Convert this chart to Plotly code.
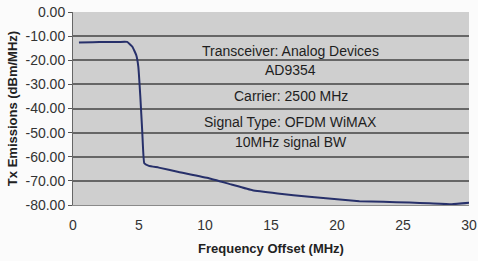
import plotly.graph_objects as go

freq = [0.45, 1.5, 2.5, 3.5, 4.1, 4.5, 4.8, 4.95, 5.1, 5.25, 5.4, 5.75, 6.5, 8.0, 10.3, 12.0, 13.6, 15.5, 17.9, 20.0, 21.7, 23.5, 25.5, 27.0, 28.7, 30.0]
emis = [-12.6, -12.5, -12.4, -12.4, -12.4, -14.4, -18.0, -22.7, -35.0, -50.0, -62.7, -63.8, -64.5, -66.3, -68.9, -71.5, -73.9, -75.2, -76.6, -77.6, -78.4, -78.7, -79.0, -79.3, -79.7, -79.1]

notes = ["Transceiver: Analog Devices", "AD9354", "Carrier: 2500 MHz", "Signal Type: OFDM WiMAX", "10MHz signal BW"]
note_y = [-16.0, -24.2, -34.8, -45.5, -53.8]

x_ticks = [0, 5, 10, 15, 20, 25, 30]
y_ticks = [0, -10, -20, -30, -40, -50, -60, -70, -80]

fig = go.Figure()
fig.add_trace(go.Scatter(x=freq, y=emis, mode="lines",
                         line=dict(color="#27306a", width=2, shape="spline", smoothing=0.3),
                         hoverinfo="skip", showlegend=False))

for t, yv in zip(notes, note_y):
    fig.add_annotation(x=16.5, y=yv, text=t, showarrow=False,
                       font=dict(family="Liberation Sans, Arial", size=14, color="#1e1e1e"),
                       xanchor="center", yanchor="middle")

fig.update_layout(
    width=478, height=261,
    margin=dict(l=73, r=9, t=12, b=56, autoexpand=False),
    paper_bgcolor="#fbfbfb",
    plot_bgcolor="#cfcfcf",
    font=dict(family="Liberation Sans, Arial", size=14, color="#333333"),
    xaxis=dict(range=[0, 30], tickvals=x_ticks, ticktext=[str(v) for v in x_ticks],
               showgrid=False, zeroline=False, showline=True, linecolor="#8a8a8a", linewidth=1,
               ticks="outside", ticklen=7, tickcolor="rgba(0,0,0,0)", automargin=False,
               tickfont=dict(size=14, color="#333333"),
               title=dict(text="<b>Frequency Offset (MHz)</b>", font=dict(size=13, color="#222222"), standoff=12)),
    yaxis=dict(range=[-80, 0], tickvals=y_ticks, ticktext=["%.2f" % v if v != 0 else "0.00" for v in y_ticks],
               showgrid=True, gridcolor="#666666", gridwidth=1.5, zeroline=False,
               showline=True, linecolor="#666666", linewidth=1, automargin=False,
               ticks="outside", ticklen=4, tickcolor="#555555",
               tickfont=dict(size=14, color="#333333"),
               title=dict(text="<b>Tx Emissions (dBm/MHz)</b>", font=dict(size=13, color="#222222"), standoff=4)),
)

fig.write_html("out.html")
